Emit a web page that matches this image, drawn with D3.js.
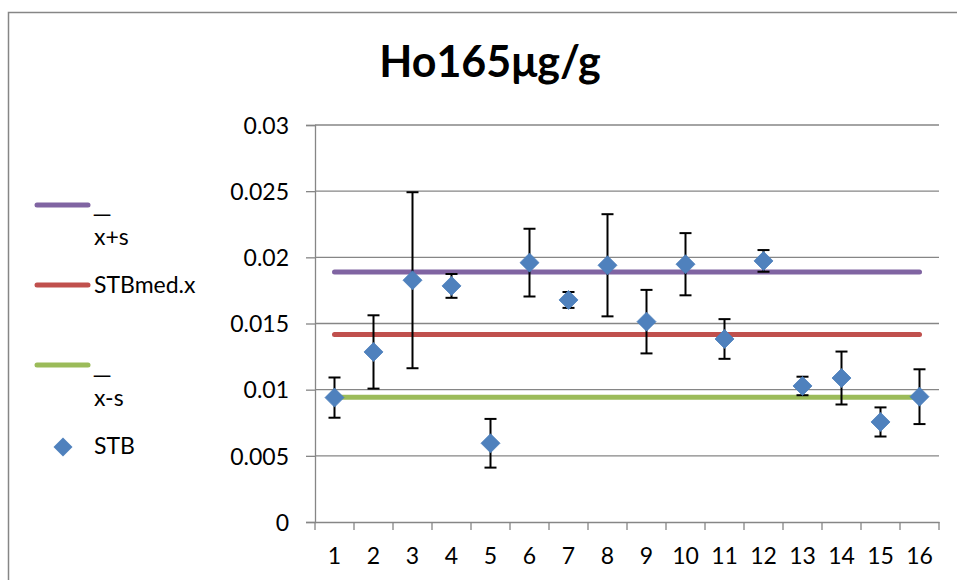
<!DOCTYPE html>
<html><head><meta charset="utf-8">
<script src="https://cdn.jsdelivr.net/npm/d3@7"></script>
<style>body{margin:0;background:#fff}svg{display:block}</style>
</head><body>
<script>
const categories = ["1","2","3","4","5","6","7","8","9","10","11","12","13","14","15","16"];
const stbValues = [0.00940, 0.01285, 0.01827, 0.01784, 0.00595, 0.01960, 0.01678, 0.01940, 0.01514, 0.01948, 0.01383, 0.01973, 0.01028, 0.01088, 0.00756, 0.00947];
const stbErrors = [0.00152, 0.00277, 0.00665, 0.00090, 0.00184, 0.00256, 0.00060, 0.00386, 0.00240, 0.00235, 0.00150, 0.00082, 0.00070, 0.00200, 0.00110, 0.00207];
const xPlusS = 0.0189;
const stbMedX = 0.01416;
const xMinusS = 0.00943;
const yTicks = [0, 0.005, 0.01, 0.015, 0.02, 0.025, 0.03];
const yTickLabels = ["0", "0.005", "0.01", "0.015", "0.02", "0.025", "0.03"];
const titleText = "Ho165μg/g";

const W = 957, H = 580;
const font = "Lato, 'Open Sans', sans-serif";
const svg = d3.select("body").append("svg").attr("width", W).attr("height", H);

svg.append("rect").attr("x", 8.5).attr("y", 12.5).attr("width", 1000).attr("height", 1000)
  .attr("fill", "#fff").attr("stroke", "#868686").attr("stroke-width", 1.5);

const plot = {left: 315, right: 939, top: 125, bottom: 522};
const x = d3.scaleBand().domain(categories).range([plot.left, plot.right]);
const y = d3.scaleLinear().domain([0, 0.03]).range([plot.bottom, plot.top]);
const cx = c => x(c) + x.bandwidth() / 2;

// gridlines
svg.append("g").selectAll("line").data(yTicks.slice(1)).join("line")
  .attr("x1", plot.left).attr("x2", plot.right)
  .attr("y1", d => y(d)).attr("y2", d => y(d))
  .attr("stroke", "#868686").attr("stroke-width", 1.3);

// y axis
const yAxis = svg.append("g").attr("transform", `translate(${plot.left},0)`)
  .call(d3.axisLeft(y).tickValues(yTicks).tickFormat((d, i) => yTickLabels[i]).tickSize(9).tickPadding(17));
yAxis.select(".domain").attr("stroke", "#868686").attr("stroke-width", 1.3);
yAxis.selectAll(".tick line").attr("stroke", "#868686").attr("stroke-width", 1.3);
yAxis.selectAll("text").attr("font-family", font).attr("font-size", 23).attr("fill", "#000").attr("dy", "0.36em");

// x axis
const xAxis = svg.append("g").attr("transform", `translate(0,${plot.bottom})`)
  .call(d3.axisBottom(x).tickSize(0).tickPadding(42));
xAxis.select(".domain").attr("stroke", "#868686").attr("stroke-width", 1.3);
xAxis.selectAll("text").attr("font-family", font).attr("font-size", 23).attr("fill", "#000").attr("dy", 0);
const bounds = categories.map(c => x(c)).concat([plot.right]);
svg.append("g").selectAll("line").data(bounds).join("line")
  .attr("x1", d => d).attr("x2", d => d).attr("y1", plot.bottom).attr("y2", plot.bottom + 8)
  .attr("stroke", "#868686").attr("stroke-width", 1.3);

// horizontal series lines
const hLines = [
  {v: xPlusS, color: "#8064A2"},
  {v: stbMedX, color: "#C0504D"},
  {v: xMinusS, color: "#9BBB59"}
];
svg.append("g").selectAll("line").data(hLines).join("line")
  .attr("x1", cx(categories[0])).attr("x2", cx(categories[categories.length - 1]))
  .attr("y1", d => y(d.v)).attr("y2", d => y(d.v))
  .attr("stroke", d => d.color).attr("stroke-width", 5).attr("stroke-linecap", "round");

// error bars
const eb = svg.append("g").attr("stroke", "#000").attr("stroke-width", 2);
categories.forEach((c, i) => {
  const X = cx(c), hi = y(stbValues[i] + stbErrors[i]), lo = y(stbValues[i] - stbErrors[i]);
  eb.append("line").attr("x1", X).attr("x2", X).attr("y1", hi).attr("y2", lo);
  eb.append("line").attr("x1", X - 6).attr("x2", X + 6).attr("y1", hi).attr("y2", hi);
  eb.append("line").attr("x1", X - 6).attr("x2", X + 6).attr("y1", lo).attr("y2", lo);
});

// diamonds
const diamond = r => `M0,${-r}L${r},0L0,${r}L${-r},0Z`;
svg.append("g").selectAll("path").data(categories).join("path")
  .attr("d", diamond(9.5))
  .attr("transform", (c, i) => `translate(${cx(c)},${y(stbValues[i])})`)
  .attr("fill", "#4F81BD").attr("stroke", "#4A7EBB").attr("stroke-width", 0.8);

// title
svg.append("text").attr("x", 490).attr("y", 77).attr("text-anchor", "middle")
  .attr("font-family", font).attr("font-weight", "bold").attr("font-size", 43)
  .text(titleText);

// legend
const lg = svg.append("g").attr("font-family", font).attr("font-size", 23).attr("fill", "#000");
const legendLines = [
  {y: 205, color: "#8064A2", lines: ["_", "x+s"], ys: [210.5, 245]},
  {y: 285, color: "#C0504D", lines: ["STBmed.x"], ys: [293]},
  {y: 365, color: "#9BBB59", lines: ["_", "x-s"], ys: [371.5, 406]}
];
legendLines.forEach(l => {
  lg.append("line").attr("x1", 37).attr("x2", 88).attr("y1", l.y).attr("y2", l.y)
    .attr("stroke", l.color).attr("stroke-width", 5).attr("stroke-linecap", "round");
  l.lines.forEach((t, k) => {
    if (t === "_") {
      lg.append("text").attr("transform", `translate(94,${l.ys[k]}) scale(1.4,1)`)
        .attr("font-family", "'DejaVu Sans', sans-serif").text(t);
    } else {
      lg.append("text").attr("x", 94).attr("y", l.ys[k]).text(t);
    }
  });
});
lg.append("path").attr("d", diamond(9.5)).attr("transform", "translate(63,447)").attr("fill", "#4F81BD");
lg.append("text").attr("x", 94).attr("y", 454).text("STB");
</script>
</body></html>
